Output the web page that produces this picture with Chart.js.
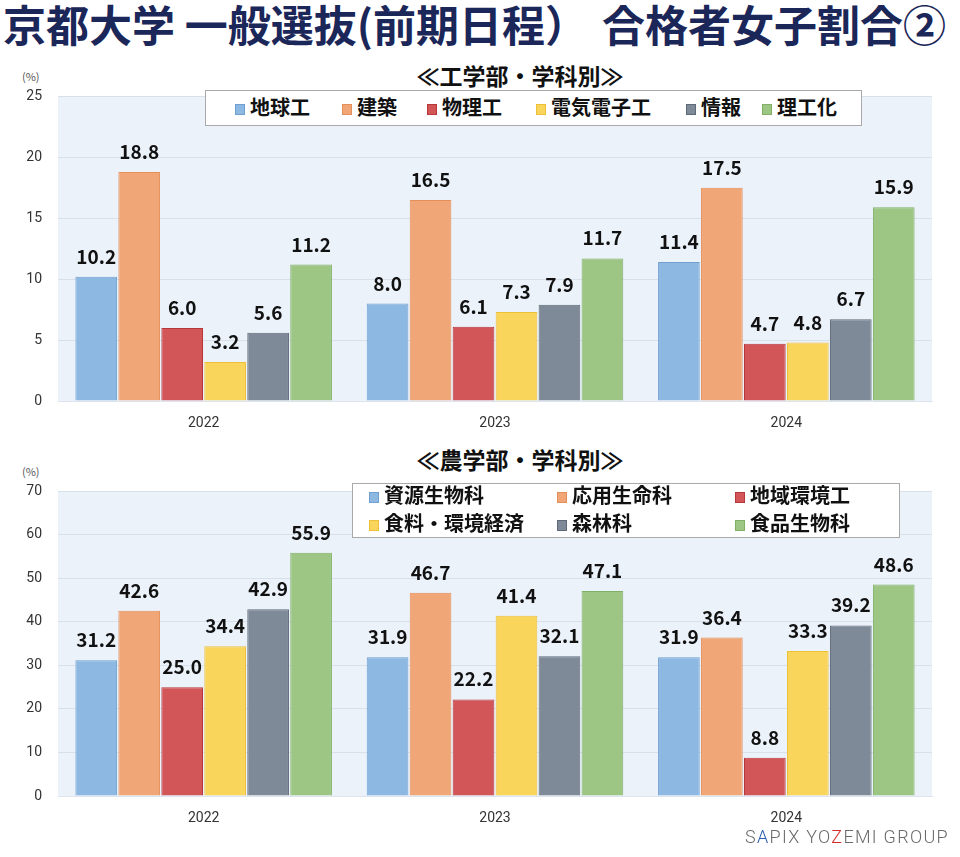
<!DOCTYPE html>
<html>
<head>
<meta charset="utf-8">
<script src="https://cdn.jsdelivr.net/npm/chart.js@4.4.1/dist/chart.umd.min.js"></script>
<style>
  body { margin: 0; background: #fff; font-family: "Noto Sans CJK JP", "Noto Sans", sans-serif; }
  #page { position: relative; width: 960px; height: 857px; overflow: hidden; }
  .abs { position: absolute; }
  #title { left: 3px; top: -8px; font-size: 43px; font-weight: bold; color: #1b2659; white-space: nowrap; }
  .sub { left: 0; width: 1040px; text-align: center; font-size: 23px; font-weight: bold; color: #111; }
  .unit { left: 22px; font-size: 11px; color: #555; }
  .legend { background: #fff; border: 1px solid #a9a9a9; box-sizing: border-box; }
  .item { position: absolute; font-size: 20px; font-weight: bold; color: #111; white-space: nowrap; line-height: 22px; }
  .sw { display: inline-block; width: 10px; height: 11px; margin-right: 5px; box-sizing: border-box; border: 1px solid; vertical-align: 0px; }
  #logo { left: 745px; top: 826px; font-family: Roboto, sans-serif; font-weight: 300; font-size: 18px; letter-spacing: 1.3px; color: #6a6a6a; }
</style>
</head>
<body>
<div id="page">
  <div id="title" class="abs">京都大学 一般選抜(前期日程）<span style="margin-left:14px">合格者女子割合②</span></div>
  <div class="abs sub" style="top:58px">≪工学部・学科別≫</div>
  <div class="abs unit" style="top:68px">(%)</div>
  <div class="abs sub" style="top:442px">≪農学部・学科別≫</div>
  <div class="abs unit" style="top:463px">(%)</div>
  <canvas id="c1" class="abs" style="left:0;top:72px" width="960" height="360"></canvas>
  <canvas id="c2" class="abs" style="left:0;top:467px" width="960" height="360"></canvas>
  <div id="leg1" class="abs legend" style="left:205px;top:90px;width:657px;height:36px"></div>
  <div id="leg2" class="abs legend" style="left:352px;top:483px;width:548px;height:55px"></div>
  <div id="logo" class="abs">S<span style="color:#2a5bb0">A</span>PIX YO<span style="color:#d42a2a">Z</span>EMI GROUP</div>
</div>
<script>
const years = ['2022', '2023', '2024'];

// 工学部
const engNames = ['地球工', '建築', '物理工', '電気電子工', '情報', '理工化'];
const chikyu = [10.2, 8.0, 11.4];
const kenchiku = [18.8, 16.5, 17.5];
const butsuri = [6.0, 6.1, 4.7];
const denki = [3.2, 7.3, 4.8];
const joho = [5.6, 7.9, 6.7];
const rikoka = [11.2, 11.7, 15.9];
const engTicks = [0, 5, 10, 15, 20, 25];

// 農学部
const agrNames = ['資源生物科', '応用生命科', '地域環境工', '食料・環境経済', '森林科', '食品生物科'];
const shigen = [31.2, 31.9, 31.9];
const oyo = [42.6, 46.7, 36.4];
const chiiki = [25.0, 22.2, 8.8];
const shokuryo = [34.4, 41.4, 33.3];
const shinrin = [42.9, 32.1, 39.2];
const shokuhin = [55.9, 47.1, 48.6];
const agrTicks = [0, 10, 20, 30, 40, 50, 60, 70];

const fills = ['#8db8e2', '#f0a676', '#d25558', '#f9d55c', '#7f8a98', '#9dc684'];
const borders = ['#6f9fd0', '#e58f5a', '#b8373b', '#eec038', '#5f6a78', '#80b066'];

const plotBg = {
  id: 'plotBg',
  beforeDraw(chart) {
    const { ctx, chartArea: a } = chart;
    ctx.save();
    ctx.fillStyle = '#ebf2fa';
    ctx.fillRect(a.left, a.top, a.right - a.left, a.bottom - a.top);
    ctx.restore();
  }
};

const valueLabels = {
  id: 'valueLabels',
  afterDatasetsDraw(chart) {
    const ctx = chart.ctx;
    ctx.save();
    ctx.font = 'bold 19px "Noto Sans CJK JP", "Noto Sans", sans-serif';
    ctx.fillStyle = '#111';
    ctx.textAlign = 'center';
    ctx.textBaseline = 'alphabetic';
    chart.data.datasets.forEach((ds, i) => {
      chart.getDatasetMeta(i).data.forEach((bar, j) => {
        ctx.fillText(ds.data[j].toFixed(1), bar.x, bar.y - 13);
      });
    });
    ctx.restore();
  }
};

function makeChart(id, names, series, ticks, max, xHeight) {
  new Chart(document.getElementById(id), {
    type: 'bar',
    data: {
      labels: years,
      datasets: series.map((s, i) => ({
        label: names[i],
        data: s,
        backgroundColor: fills[i],
        borderColor: borders[i],
        borderWidth: 1,
        barPercentage: 0.97,
        categoryPercentage: 0.885
      }))
    },
    options: {
      responsive: false,
      animation: false,
      layout: { padding: { top: 7, right: 28, left: 0, bottom: 0 } },
      plugins: { legend: { display: false }, tooltip: { enabled: false } },
      scales: {
        x: {
          grid: { display: false },
          border: { color: '#dde4ee' },
          ticks: { color: '#333', font: { size: 14, family: 'Roboto, "Noto Sans", sans-serif' }, padding: 6 },
          afterFit(axis) { axis.height = xHeight; }
        },
        y: {
          min: 0, max: max,
          afterBuildTicks(axis) { axis.ticks = ticks.map(v => ({ value: v })); },
          grid: { color: '#d8e0ea', drawTicks: false },
          border: { display: false },
          ticks: { color: '#333', font: { size: 14, family: 'Roboto, "Noto Sans", sans-serif' }, padding: 16 },
          afterFit(axis) { axis.width = 58; }
        }
      }
    },
    plugins: [plotBg, valueLabels]
  });
}

makeChart('c1', engNames, [chikyu, kenchiku, butsuri, denki, joho, rikoka], engTicks, 25, 31);
makeChart('c2', agrNames, [shigen, oyo, chiiki, shokuryo, shinrin, shokuhin], agrTicks, 70, 31);

function buildLegend(id, names, positions) {
  const box = document.getElementById(id);
  names.forEach((n, i) => {
    const el = document.createElement('div');
    el.className = 'item';
    el.style.left = positions[i][0] + 'px';
    el.style.top = positions[i][1] + 'px';
    el.innerHTML = '<span class="sw" style="background:' + fills[i] + ';border-color:' + borders[i] + '"></span>' + n;
    box.appendChild(el);
  });
}
// positions relative to the legend boxes
buildLegend('leg1', engNames, [[29, 5], [136, 5], [221, 5], [330, 5], [480, 5], [556, 5]]);
buildLegend('leg2', agrNames, [[16, 0], [204, 0], [382, 0], [16, 28], [204, 28], [382, 28]]);
</script>
</body>
</html>
